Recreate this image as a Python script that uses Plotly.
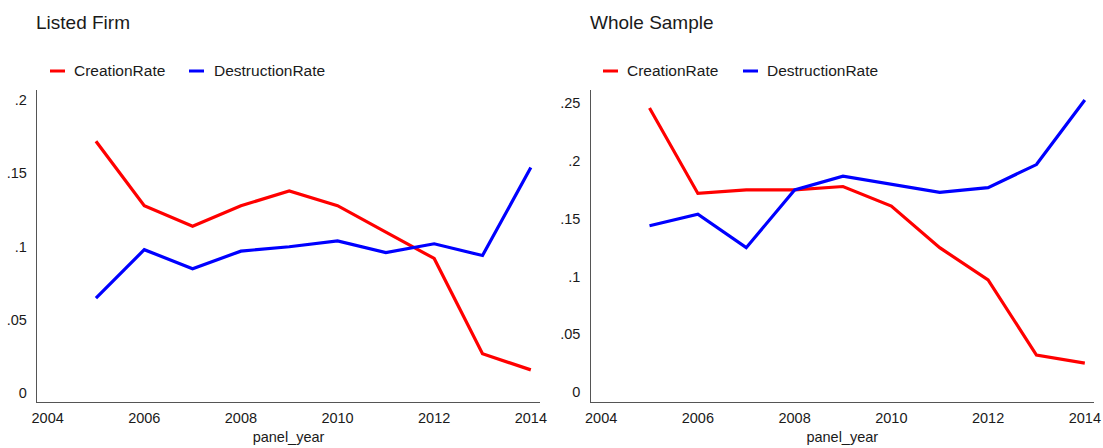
import plotly.graph_objects as go

# Job flow rates by year
years = [2005, 2006, 2007, 2008, 2009, 2010, 2011, 2012, 2013, 2014]

listed_creation = [0.172, 0.128, 0.114, 0.128, 0.138, 0.128, 0.110, 0.092, 0.027, 0.016]
listed_destruction = [0.065, 0.098, 0.085, 0.097, 0.100, 0.104, 0.096, 0.102, 0.094, 0.154]

whole_creation = [0.246, 0.172, 0.175, 0.175, 0.178, 0.161, 0.125, 0.097, 0.032, 0.025]
whole_destruction = [0.144, 0.154, 0.125, 0.175, 0.187, 0.180, 0.173, 0.177, 0.197, 0.253]

panel_titles = ["Listed Firm", "Whole Sample"]
series_names = ["CreationRate", "DestructionRate"]
series_colors = ["#ff0000", "#0000ff"]

x_ticks = [2004, 2006, 2008, 2010, 2012, 2014]
left_y_ticks = [0, 0.05, 0.1, 0.15, 0.2]
left_y_text = ["0", ".05", ".1", ".15", ".2"]
right_y_ticks = [0, 0.05, 0.1, 0.15, 0.2, 0.25]
right_y_text = ["0", ".05", ".1", ".15", ".2", ".25"]

W, H = 1103, 448
FONT = "Liberation Sans, Arial, sans-serif"
AXIS_COLOR = "#555555"
TEXT_COLOR = "#1a1a1a"

fig = go.Figure()

panels = [
    ("x", "y", [listed_creation, listed_destruction]),
    ("x2", "y2", [whole_creation, whole_destruction]),
]
for xa, ya, series in panels:
    for name, color, vals in zip(series_names, series_colors, series):
        fig.add_trace(go.Scatter(
            x=years, y=vals, mode="lines", name=name,
            line=dict(color=color, width=3.2),
            xaxis=xa, yaxis=ya, showlegend=False,
        ))

# pixel layout of the two plot regions
left_px = (37, 540)
right_px = (590.5, 1094)
top_px, bottom_px = 90, 402
ydom = [1 - bottom_px / H, 1 - top_px / H]

def xaxis_cfg(px):
    return dict(
        domain=[px[0] / W, px[1] / W],
        range=[2003.78, 2014.19],
        tickvals=x_ticks,
        showline=True, linecolor=AXIS_COLOR, linewidth=1.3,
        showgrid=False, zeroline=False,
        ticks="", ticklabelstandoff=2,
        tickfont=dict(family=FONT, size=14.5, color=TEXT_COLOR),
        title=dict(text="panel_year", standoff=7,
                   font=dict(family=FONT, size=14.5, color=TEXT_COLOR)),
        automargin=False, fixedrange=True,
    )

def yaxis_cfg(anchor, rng, vals, text):
    return dict(
        domain=ydom, anchor=anchor, range=rng,
        tickvals=vals, ticktext=text,
        showline=True, linecolor=AXIS_COLOR, linewidth=1.3,
        showgrid=False, zeroline=False,
        ticks="", ticklabelstandoff=6,
        tickfont=dict(family=FONT, size=14.5, color=TEXT_COLOR),
        automargin=False, fixedrange=True,
    )

fig.update_layout(
    width=W, height=H,
    margin=dict(l=0, r=0, t=0, b=0),
    paper_bgcolor="white", plot_bgcolor="white",
    xaxis=dict(anchor="y", **xaxis_cfg(left_px)),
    xaxis2=dict(anchor="y2", **xaxis_cfg(right_px)),
    yaxis=yaxis_cfg("x", [-0.0059, 0.2069], left_y_ticks, left_y_text),
    yaxis2=yaxis_cfg("x2", [-0.0087, 0.2616], right_y_ticks, right_y_text),
    showlegend=False,
)

annotations = []
shapes = []

# panel titles
for title, px in zip(panel_titles, [left_px, right_px]):
    annotations.append(dict(
        text=title, xref="paper", yref="paper",
        x=(px[0] - 3) / W, y=1 - 22 / H, xanchor="left", yanchor="middle",
        showarrow=False, font=dict(family=FONT, size=19, color=TEXT_COLOR),
    ))

# legend rows above each panel: short line key + label
legend_y = 1 - 71 / H
legend_keys = {
    "left": [(50, 72), (189, 212)],
    "right": [(603, 625), (743, 765)],
}
for keys in legend_keys.values():
    for (kx, tx), name, color in zip(keys, series_names, series_colors):
        shapes.append(dict(
            type="line", xref="paper", yref="paper",
            x0=kx / W, x1=(kx + 15) / W, y0=legend_y, y1=legend_y,
            line=dict(color=color, width=3),
        ))
        annotations.append(dict(
            text=name, xref="paper", yref="paper",
            x=tx / W, y=legend_y, xanchor="left", yanchor="middle",
            showarrow=False, font=dict(family=FONT, size=15.5, color=TEXT_COLOR),
        ))

fig.update_layout(annotations=annotations, shapes=shapes)

fig.write_html("out.html", config={"displayModeBar": False})
